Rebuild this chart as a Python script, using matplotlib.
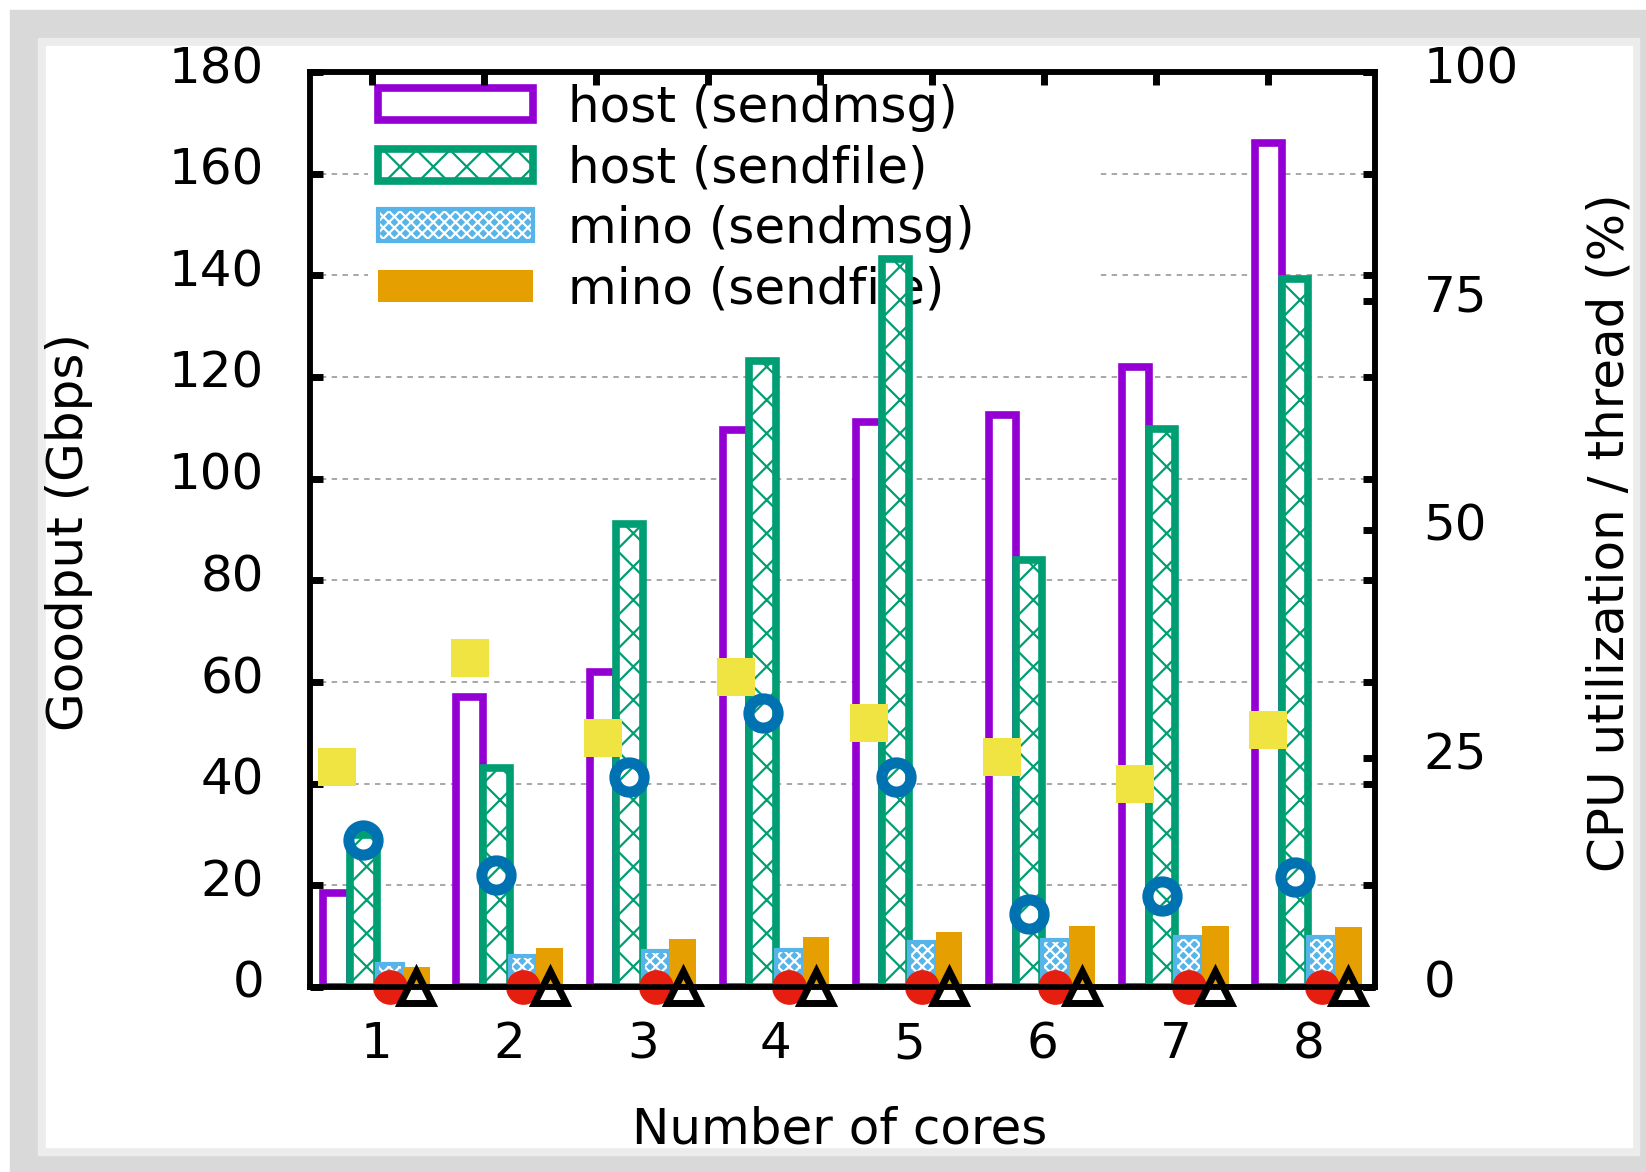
import numpy as np
import matplotlib
matplotlib.use("Agg")
import matplotlib.pyplot as plt
from matplotlib.patches import Rectangle
from matplotlib.transforms import ScaledTranslation

# data
cores = [1, 2, 3, 4, 5, 6, 7, 8]
host_sendmsg = [18.5, 57, 62, 109.6, 111.2, 112.5, 122, 166]
host_sendfile = [30, 43, 91, 123.2, 143.3, 84, 109.8, 139.3]
mino_sendmsg = [4.5, 6.1, 7.1, 7.3, 8.8, 9.2, 9.8, 9.9]
mino_sendfile = [4.0, 7.7, 9.4, 9.8, 10.9, 12.0, 12.0, 11.9]

# cpu utilization / thread (%)
cpu_host_sendmsg = [24.0, 36.0, 27.2, 33.9, 28.9, 25.1, 22.2, 28.1]
cpu_host_sendfile = [16.1, 12.2, 22.9, 30.0, 22.9, 8.0, 10.0, 12.0]
cpu_mino_sendmsg = [0, 0, 0, 0, 0, 0, 0, 0]
cpu_mino_sendfile = [0, 0, 0, 0, 0, 0, 0, 0]

labels = ["host (sendmsg)", "host (sendfile)", "mino (sendmsg)", "mino (sendfile)"]

purple = "#9400d3"
green = "#009e73"
lblue = "#56b4e9"
orange = "#e69f00"
yellow = "#f0e442"
blue = "#0072b2"
red = "#e51e10"

plt.rcParams["font.family"] = "DejaVu Sans"
plt.rcParams["hatch.linewidth"] = 1.6
FS = 36

W, H = 1646, 1172
fig = plt.figure(figsize=(W / 100, H / 100), dpi=100)
fig.patch.set_facecolor("white")

# screenshot frame
def px_rect(x0, y0, x1, y1, color):
    fig.patches.append(Rectangle((x0 / W, 1 - y1 / H), (x1 - x0) / W, (y1 - y0) / H,
                                 transform=fig.transFigure, color=color, zorder=-10))

px_rect(10, 10, W, H, "#d9d9d9")
px_rect(38, 38, 1639, 1155, "#ececec")
px_rect(46, 46, 1632, 1147, "white")

ax = fig.add_axes([310 / W, 1 - 987 / H, (1375 - 310) / W, (987 - 72) / H])
ax.set_facecolor("none")
ax2 = ax.twinx()

x = np.array(cores, dtype=float)
bw = 0.2

b1 = ax.bar(x - 0.3, host_sendmsg, bw, facecolor="white", edgecolor=purple, lw=5.5, zorder=2)
b2 = ax.bar(x - 0.1, host_sendfile, bw, facecolor="white", edgecolor=green, lw=5.5,
            hatch="x", zorder=2)
b3 = ax.bar(x + 0.1, mino_sendmsg, bw, facecolor=lblue, edgecolor="white", lw=0,
            hatch="xxx", zorder=2)
b3e = ax.bar(x + 0.1, mino_sendmsg, bw, fill=False, edgecolor=lblue, lw=3, zorder=2)
b4 = ax.bar(x + 0.3, mino_sendfile, bw, color=orange, lw=0, zorder=2)

# cpu markers on the right axis
ax2.plot(x - 0.3, cpu_host_sendmsg, "s", color=yellow, ms=27, mew=0, ls="none", clip_on=False)
ax2.plot(x - 0.1, cpu_host_sendfile, "o", mfc="none", mec=blue, ms=21, mew=8, ls="none",
         clip_on=False)
ax2.plot(x + 0.1, cpu_mino_sendmsg, "o", color=red, ms=25, mew=0, ls="none", clip_on=False)
ax2.plot(x + 0.3, cpu_mino_sendfile, "^", mfc="none", mec="black", ms=23, mew=5, ls="none",
         clip_on=False)

ax.set_xlim(0.5, 8.5)
ax.set_ylim(0, 180)
ax2.set_ylim(0, 100)

ax.set_xticks(cores)
ax.set_yticks(np.arange(0, 181, 20))
ax2.set_yticks(np.arange(0, 101, 25))

ax.grid(axis="y", color="#a0a0a0", lw=1.3, dashes=(3, 3))
ax.set_axisbelow(True)

ax.tick_params(axis="y", direction="in", length=9, width=5, left=True, right=True,
               labelsize=FS, pad=33)
ax.tick_params(axis="x", direction="in", length=9, width=5, top=False, labelsize=FS, pad=24)
ax2.tick_params(axis="y", direction="in", length=9, width=5, labelsize=FS, pad=35)

top = ax.secondary_xaxis("top")
top.set_xticks(np.arange(0.966, 8.5, 0.8413))
top.tick_params(direction="in", length=9, width=5, labeltop=False)
top.spines["top"].set_visible(False)
top.set_zorder(5)

for a in (ax, ax2):
    for s in a.spines.values():
        s.set_linewidth(4)
        s.set_zorder(6)

# shift y tick labels up a bit, like the reference
off = ScaledTranslation(0, 8 / 100, fig.dpi_scale_trans)
for lab in ax.get_yticklabels() + ax2.get_yticklabels():
    lab.set_transform(lab.get_transform() + off)

leg = ax.legend([b1, b2, (b3, b3e), b4], labels, loc="upper left",
                bbox_to_anchor=(0.0545, 0.0, 0.685, 0.998), mode="expand",
                fontsize=FS, handlelength=3.1, handleheight=0.6, labelspacing=0.25,
                handletextpad=0.7, borderpad=0.2, borderaxespad=0, fancybox=False,
                edgecolor="none", framealpha=1)
leg.set_zorder(1)

fig.text(69 / W, 1 - 532 / H, "Goodput (Gbps)", rotation=90, ha="center", va="center",
         fontsize=FS)
fig.text(1609 / W, 1 - 533 / H, "CPU utilization / thread (%)", rotation=90, ha="center",
         va="center", fontsize=FS)
fig.text(840 / W, 1 - 1144 / H, "Number of cores", ha="center", va="baseline", fontsize=FS)

fig.savefig("out.png", dpi=100)
